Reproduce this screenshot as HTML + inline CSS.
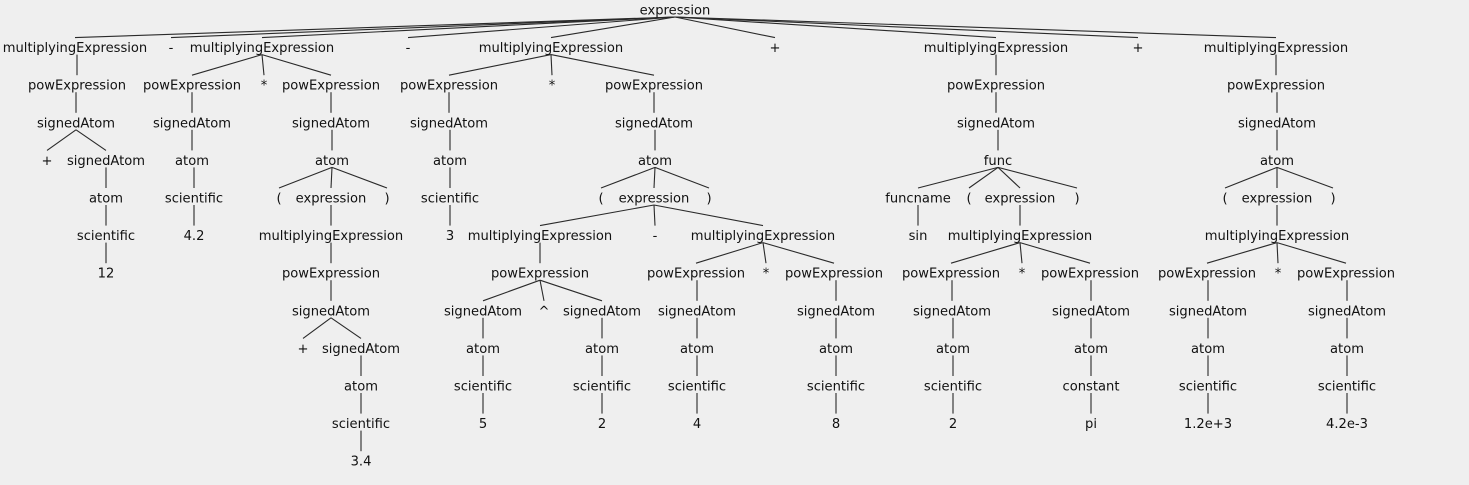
<!DOCTYPE html>
<html><head><meta charset="utf-8"><style>
html,body{margin:0;padding:0;background:#efefef;}
svg{display:block;}
text{font-family:"DejaVu Sans","Liberation Sans",sans-serif;font-size:13.1px;fill:#111;}
</style></head><body>
<svg id="tree" width="1469" height="485" viewBox="0 0 1469 485">
<rect width="1469" height="485" fill="#efefef"/>
</svg>
<script>
// [id, label, x, depth, parentId]
const nodes = [
[0,'expression',675,0,-1],
[1,'multiplyingExpression',75,1,0],[2,'-',171,1,0],[3,'multiplyingExpression',262,1,0],[4,'-',408,1,0],
[5,'multiplyingExpression',551,1,0],[6,'+',775,1,0],[7,'multiplyingExpression',996,1,0],[8,'+',1138,1,0],[9,'multiplyingExpression',1276,1,0],
// A
[10,'powExpression',77,2,1],[11,'signedAtom',76,3,10],[12,'+',47,4,11],[13,'signedAtom',106,4,11],[14,'atom',106,5,13],[15,'scientific',106,6,14],[16,'12',106,7,15],
// B
[20,'powExpression',192,2,3],[21,'*',264,2,3],[22,'powExpression',331,2,3],
[23,'signedAtom',192,3,20],[24,'atom',192,4,23],[25,'scientific',194,5,24],[26,'4.2',194,6,25],
[27,'signedAtom',331,3,22],[28,'atom',332,4,27],[29,'(',279,5,28],[30,'expression',331,5,28],[31,')',387,5,28],
[32,'multiplyingExpression',331,6,30],[33,'powExpression',331,7,32],[34,'signedAtom',331,8,33],[35,'+',303,9,34],[36,'signedAtom',361,9,34],
[37,'atom',361,10,36],[38,'scientific',361,11,37],[39,'3.4',361,12,38],
// C
[40,'powExpression',449,2,5],[41,'*',552,2,5],[42,'powExpression',654,2,5],
[43,'signedAtom',449,3,40],[44,'atom',450,4,43],[45,'scientific',450,5,44],[46,'3',450,6,45],
[47,'signedAtom',654,3,42],[48,'atom',655,4,47],[49,'(',601,5,48],[50,'expression',654,5,48],[51,')',709,5,48],
[52,'multiplyingExpression',540,6,50],[53,'-',655,6,50],[54,'multiplyingExpression',763,6,50],
[55,'powExpression',540,7,52],[56,'signedAtom',483,8,55],[57,'^',544,8,55],[58,'signedAtom',602,8,55],
[59,'atom',483,9,56],[60,'scientific',483,10,59],[61,'5',483,11,60],
[62,'atom',602,9,58],[63,'scientific',602,10,62],[64,'2',602,11,63],
[65,'powExpression',696,7,54],[66,'*',766,7,54],[67,'powExpression',834,7,54],
[68,'signedAtom',697,8,65],[69,'atom',697,9,68],[70,'scientific',697,10,69],[71,'4',697,11,70],
[72,'signedAtom',836,8,67],[73,'atom',836,9,72],[74,'scientific',836,10,73],[75,'8',836,11,74],
// D
[80,'powExpression',996,2,7],[81,'signedAtom',996,3,80],[82,'func',998,4,81],
[83,'funcname',918,5,82],[84,'(',969,5,82],[85,'expression',1020,5,82],[86,')',1077,5,82],
[87,'sin',918,6,83],[88,'multiplyingExpression',1020,6,85],
[89,'powExpression',951,7,88],[90,'*',1022,7,88],[91,'powExpression',1090,7,88],
[92,'signedAtom',952,8,89],[93,'atom',953,9,92],[94,'scientific',953,10,93],[95,'2',953,11,94],
[96,'signedAtom',1091,8,91],[97,'atom',1091,9,96],[98,'constant',1091,10,97],[99,'pi',1091,11,98],
// E
[100,'powExpression',1276,2,9],[101,'signedAtom',1277,3,100],[102,'atom',1277,4,101],
[103,'(',1225,5,102],[104,'expression',1277,5,102],[105,')',1333,5,102],
[106,'multiplyingExpression',1277,6,104],
[107,'powExpression',1207,7,106],[108,'*',1278,7,106],[109,'powExpression',1346,7,106],
[110,'signedAtom',1208,8,107],[111,'atom',1208,9,110],[112,'scientific',1208,10,111],[113,'1.2e+3',1208,11,112],
[114,'signedAtom',1347,8,109],[115,'atom',1347,9,114],[116,'scientific',1347,10,115],[117,'4.2e-3',1347,11,116]
];
const svg=document.getElementById('tree');
const NS='http://www.w3.org/2000/svg';
const rowY=d=>10+d*37.6;
const byId={},kids={};
nodes.forEach(n=>{byId[n[0]]=n;kids[n[4]]=(kids[n[4]]||0)+1;});
nodes.forEach(n=>{
  if(n[4]<0)return;
  const p=byId[n[4]];
  const single=kids[p[0]]===1;
  const x1=single?n[2]:p[2];
  const l=document.createElementNS(NS,'line');
  l.setAttribute('x1',x1);l.setAttribute('y1',rowY(p[3])+7);
  l.setAttribute('x2',n[2]);l.setAttribute('y2',rowY(n[3])-10);
  l.setAttribute('stroke','#2a2a2a');l.setAttribute('stroke-width','1.1');
  
  
  svg.appendChild(l);
});
nodes.forEach(n=>{
  const t=document.createElementNS(NS,'text');
  t.setAttribute('x',n[2]);t.setAttribute('y',rowY(n[3])+4.5);
  t.setAttribute('text-anchor','middle');
  t.textContent=n[1];
  
  
  svg.appendChild(t);
});
</script>
</body></html>
